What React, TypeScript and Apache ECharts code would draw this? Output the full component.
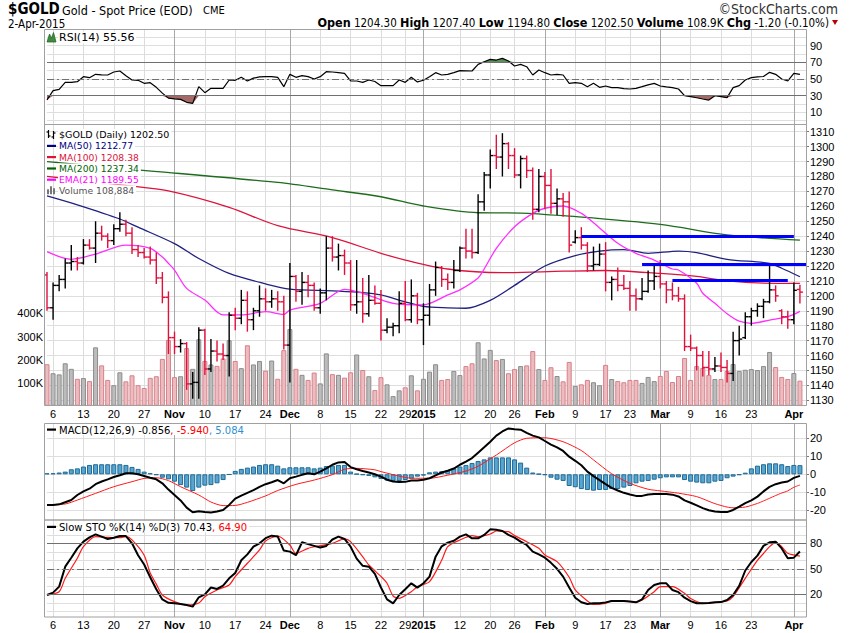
import React, { useEffect, useRef } from 'react';
import * as echarts from 'echarts';

// ---------------- data ----------------
const dates = [
'2014-10-03','2014-10-06','2014-10-07','2014-10-08','2014-10-09','2014-10-10',
'2014-10-13','2014-10-14','2014-10-15','2014-10-16','2014-10-17',
'2014-10-20','2014-10-21','2014-10-22','2014-10-23','2014-10-24',
'2014-10-27','2014-10-28','2014-10-29','2014-10-30','2014-10-31',
'2014-11-03','2014-11-04','2014-11-05','2014-11-06','2014-11-07',
'2014-11-10','2014-11-11','2014-11-12','2014-11-13','2014-11-14',
'2014-11-17','2014-11-18','2014-11-19','2014-11-20','2014-11-21',
'2014-11-24','2014-11-25','2014-11-26','2014-11-28',
'2014-12-01','2014-12-02','2014-12-03','2014-12-04','2014-12-05',
'2014-12-08','2014-12-09','2014-12-10','2014-12-11','2014-12-12',
'2014-12-15','2014-12-16','2014-12-17','2014-12-18','2014-12-19',
'2014-12-22','2014-12-23','2014-12-24','2014-12-26',
'2014-12-29','2014-12-30','2014-12-31',
'2015-01-02',
'2015-01-05','2015-01-06','2015-01-07','2015-01-08','2015-01-09',
'2015-01-12','2015-01-13','2015-01-14','2015-01-15','2015-01-16',
'2015-01-20','2015-01-21','2015-01-22','2015-01-23',
'2015-01-26','2015-01-27','2015-01-28','2015-01-29','2015-01-30',
'2015-02-02','2015-02-03','2015-02-04','2015-02-05','2015-02-06',
'2015-02-09','2015-02-10','2015-02-11','2015-02-12','2015-02-13',
'2015-02-17','2015-02-18','2015-02-19','2015-02-20',
'2015-02-23','2015-02-24','2015-02-25','2015-02-26','2015-02-27',
'2015-03-02','2015-03-03','2015-03-04','2015-03-05','2015-03-06',
'2015-03-09','2015-03-10','2015-03-11','2015-03-12','2015-03-13',
'2015-03-16','2015-03-17','2015-03-18','2015-03-19','2015-03-20',
'2015-03-23','2015-03-24','2015-03-25','2015-03-26','2015-03-27',
'2015-03-30','2015-03-31',
'2015-04-01','2015-04-02'];

const open = [
1214,1192,1207,1211,1222,1223,1222,1234,1232,1242,
1240,1237,1245,1248,1242,1231,1229,1226,1224,1212,
1199,1172,1166,1168,1141,1142,1177,1151,1163,1161,
1160,1187,1185,1197,1184,1190,1198,1196,1198,1196,
1167,1213,1203,1209,1207,1192,1202,1232,1226,1227,
1222,1194,1196,1188,1197,1195,1177,1179,1180,1195,
1184,1200,1184,1187,1204,1219,1211,1209,1217,1232,
1230,1229,1263,1281,1294,1293,1302,1294,1281,1292,
1284,1258,1280,1274,1262,1265,1263,1236,1239,1234,
1220,1221,1228,1209,1211,1207,1205,1200,1198,1203,
1210,1213,1208,1204,1200,1198,1166,1165,1160,1152,
1151,1153,1152,1148,1170,1172,1186,1190,1193,1196,
1204,1190,1186,1184,1204.3];
const high = [
1216,1209,1214,1225,1234,1226,1238,1238,1250,1247,
1242,1248,1256,1251,1246,1234,1232,1233,1229,1216,
1203,1176,1171,1169,1149,1179,1178,1171,1170,1168,
1189,1192,1204,1203,1192,1207,1205,1204,1203,1200,
1222,1214,1216,1214,1209,1205,1240,1240,1235,1231,
1224,1224,1212,1214,1207,1204,1185,1182,1203,1210,
1211,1202,1195,1208,1223,1220,1215,1224,1233,1245,
1245,1268,1283,1298,1308,1309,1303,1299,1294,1294,
1286,1285,1283,1285,1272,1269,1270,1244,1246,1236,
1233,1235,1236,1213,1219,1214,1210,1205,1212,1217,
1220,1224,1210,1209,1206,1201,1174,1166,1163,1163,
1159,1162,1157,1176,1180,1189,1192,1195,1198,1221,
1207,1191,1190,1209,1207.4];
const low = [
1190,1184,1203,1205,1217,1217,1221,1231,1222,1237,
1232,1234,1243,1240,1228,1226,1225,1221,1208,1195,
1161,1161,1162,1137,1131,1131,1147,1149,1156,1157,
1146,1177,1181,1176,1177,1186,1190,1192,1190,1164,
1142,1196,1194,1199,1190,1188,1197,1223,1217,1214,
1190,1188,1182,1186,1194,1170,1175,1173,1175,1183,
1182,1181,1167,1180,1200,1206,1204,1205,1216,1225,
1225,1228,1257,1272,1285,1280,1285,1279,1272,1279,
1251,1256,1258,1255,1254,1253,1229,1235,1231,1216,
1217,1220,1203,1197,1203,1204,1190,1190,1197,1202,
1204,1205,1195,1197,1196,1163,1163,1150,1146,1147,
1149,1149,1142,1143,1160,1171,1180,1186,1185,1195,
1196,1181,1178,1181,1194.8];
const close = [
1192,1207,1211,1222,1223,1222,1234,1232,1242,1240,
1237,1245,1248,1242,1231,1229,1226,1224,1212,1199,
1172,1166,1168,1141,1142,1177,1151,1163,1161,1160,
1187,1185,1197,1184,1190,1198,1196,1198,1196,1167,
1213,1203,1209,1207,1192,1202,1232,1226,1227,1222,
1194,1196,1188,1197,1195,1177,1179,1180,1195,1184,
1200,1184,1187,1204,1219,1211,1209,1217,1232,1230,
1229,1263,1281,1294,1293,1302,1294,1281,1292,1284,
1258,1280,1274,1262,1265,1263,1234,1239,1234,1220,
1221,1228,1209,1211,1207,1205,1200,1198,1203,1210,
1213,1208,1204,1200,1198,1166,1165,1160,1152,1151,
1153,1152,1148,1170,1171,1186,1190,1193,1196,1204,
1200,1186,1184,1203.7,1202.5];
// volume in thousands
const volumeK = [
180,141,136,184,160,117,120,107,253,175,
112,89,145,106,132,89,77,121,128,203,
285,124,128,250,160,288,194,179,173,205,
284,194,163,262,179,194,152,196,117,241,
332,160,134,112,144,97,227,137,134,122,
145,222,155,128,68,124,93,42,67,80,
132,67,117,148,180,112,116,151,133,172,
184,275,205,242,198,203,141,159,172,175,
237,159,112,167,129,106,190,86,93,112,
102,89,177,116,107,102,112,112,99,125,
107,129,151,103,129,207,112,172,164,133,
116,116,151,181,151,156,159,155,172,233,
168,125,116,142,108.884];

// overlays: [dayIndex, value]
const ma50 = [[0,1267],[5,1261],[12,1251.5],[15,1246],[21,1235],[25,1225],[30,1215],[36,1208],[40,1204.5],[47,1203.3],[52,1202.2],[55,1200.6],[59,1196],[62,1193],[66,1192],[69,1191.7],[73,1197],[77,1207],[82,1220],[87,1227],[91,1230],[95,1231],[99,1228.5],[104,1230],[107,1229],[112,1224.5],[119,1221.8],[121,1218.5],[124,1212.77]];
const ma100 = [[0,1280],[13,1274],[20,1270.3],[30,1259.3],[38,1247],[47,1239],[55,1228.5],[59,1224],[66,1218],[75,1215.5],[85,1216.5],[92,1217],[101,1215],[107,1213],[112,1210],[118,1208.5],[124,1208.38]];
const ma200 = [[0,1290],[14,1284.8],[38,1276],[47,1271],[55,1266.4],[62,1260.2],[71,1255.7],[78,1255.5],[85,1253.7],[101,1247.9],[112,1240.8],[124,1237.34]];
const ema21 = [[0,1229.6],[4,1224.5],[8,1228],[13,1234],[17,1231.8],[19,1226],[20,1221.8],[21,1217.3],[23,1205],[26,1197.2],[29,1187.2],[32,1187.2],[36,1189.4],[39,1187.5],[40,1190.5],[45,1195],[49,1204.4],[52,1201.7],[57,1195],[62,1194],[66,1200.6],[68,1204],[71,1212],[72,1218],[74,1231.8],[77,1246.3],[80,1255.3],[82,1258.7],[85,1260.2],[88,1255.3],[90,1249],[94,1235.2],[97,1228.5],[100,1224],[103,1218],[104,1217.3],[107,1208.4],[108,1201.7],[110,1195],[112,1188],[114,1183],[116,1181.6],[119,1183.8],[122,1186],[124,1189.55]];

const rsi = [
25,36,37.6,46,46,46.8,52.8,51.6,55.6,55,
54.8,58.4,59.6,54,48.8,48.4,44.8,45.6,40,33,
27,26,25.5,22,20.7,40.8,33.6,38.8,38.8,38.8,
48.8,48.4,52,47.6,51,52.5,52.8,52.8,52,40.8,
55.6,52,54,52.8,50,52.8,58.8,58.4,57.6,56.8,
47.6,47.6,46,48.8,47,42,42,42,48.8,46,
52,46.5,48.5,52.8,57.6,54.8,55.5,57.6,60,59.8,
59.6,67.6,70.8,73.6,72.8,74.8,71.6,65.6,67.6,64.8,
54.8,60.8,57.6,54.8,55.6,54.8,44.8,45.6,44.8,40.8,
44.8,40,41.6,39.6,39.6,38.5,38,38.8,40.8,43,
44.8,41.6,40.5,39.6,38,30,28.8,27.5,26,24.7,
30,28.8,27.6,39.6,42,48.8,51.6,52.5,53,58,
55.6,50,47.6,56.8,55.56];

const macdLine = [
-17.1,-17,-16.7,-15.5,-14.3,-11.5,-9.5,-8,-5.5,-4,
-2.8,-1.5,-0.5,0.6,0.6,0,-0.9,-1.9,-2.8,-5,
-8.5,-11.5,-14.5,-18.5,-21.1,-20.5,-21,-21.2,-20.7,-19.8,
-17,-13.5,-11.8,-10.3,-8.8,-7,-5.5,-4.4,-3.2,-5,
-2.2,-1.3,-0.3,0.6,0,1.5,3.3,5.3,6.6,6.8,
4,2.8,1.8,1,0,-1.3,-3,-4,-4.3,-4.2,
-3.5,-3.5,-3,-2.2,-0.6,1,2,3.2,5.3,7,
9,12,15,18.1,21.5,23.8,25.5,25,24.8,23,
21.5,20.5,18.5,16.5,15,13,9.8,7.5,5,1.5,
-1,-3.2,-5.5,-7.5,-9,-10.3,-11.2,-12,-12,-11.2,
-11,-11,-11,-11.3,-12.3,-14.5,-15.8,-17.3,-18.8,-20,
-20.7,-21,-21,-19.8,-18,-16,-14.5,-12.4,-9.5,-7,
-5.5,-4.6,-4,-2,-0.856];
const macdSignal = [[0,-17.1],[3,-16.5],[5,-14.3],[8,-10.6],[11,-6.9],[14,-4.1],[16,-2.3],[18,-1.9],[20,-3.5],[22,-6.9],[25,-11.5],[27,-15.4],[29,-17.4],[31,-17.3],[33,-15.6],[36,-12],[38,-9],[41,-5.6],[44,-3.2],[47,-0.2],[49,2.8],[51,3.3],[54,2.5],[55,1.5],[58,-1],[60,-2.2],[63,-2.2],[66,-0.5],[69,1.8],[71,4.5],[74,10.7],[77,17.5],[79,20],[82,20.3],[85,18.1],[88,13.2],[90,8],[93,0.3],[96,-5],[99,-8.3],[101,-9.2],[104,-10.5],[107,-12.4],[110,-16.3],[112,-18.2],[113,-18.6],[115,-18.2],[117,-16.2],[118,-14.8],[119,-13.3],[120,-11.8],[121,-10.4],[122,-9.2],[123,-7.2],[124,-5.94]];
const macdHist = [
0.5,0.6,1,1.5,2.8,3.3,4.3,5.2,5.6,5.6,
5.6,5.6,5.6,5.2,4.1,3,1.5,0.6,-0.4,-1.9,
-2.8,-4.1,-6,-7.4,-9.3,-7.4,-6.3,-6,-5,-3.2,
-0.2,1.9,3,3.7,4.3,5.2,5.6,5.6,4.8,3.3,
3.9,3.9,3.9,3.9,3.3,3.7,4.6,4.8,5.2,5.2,
1.5,0.2,-0.4,-0.9,-1.7,-2.6,-3.5,-3.7,-3.7,-3.2,
-2.4,-1.3,-0.7,1.1,1.5,1.7,2.2,3.3,4.3,5.2,
6.3,7.4,8.3,9.4,9.4,9.4,9.4,8.3,6.5,3.7,
1,0.2,-0.4,-1.9,-3,-3.7,-6.5,-7.2,-8.2,-8.7,
-9.1,-8.7,-8.7,-8.2,-8.2,-7.4,-6.5,-5,-4.1,-3.7,
-3,-2.2,-1.7,-1.7,-1.7,-3.2,-4.1,-4.6,-5,-5,
-4.1,-3.7,-2.2,-1.3,-0.4,0.9,3.3,4.8,5.6,6.1,
6.1,5.6,4.6,5.2,5.084];

const stoK = [
19.2,22,29,52.5,63,74,82,87,90.5,87.8,
85,86.6,88.5,88.5,80,66,55,40,26,14,
10,9.4,8.5,7.5,5.5,16.5,20,28,26.3,30.2,
38.8,45,60,67,76,80,86,89,88,71.5,
70.2,66,81.2,79,77,75,76.9,84.5,87.8,85.1,
76,62,53.5,52.5,44,28,14,9.4,19.2,26,
32.9,27.8,33,40.8,64.3,76.5,80.8,83,87.8,90.5,
85.8,85.8,89.8,96.4,96,94.5,90,86.6,82,78,
70.2,67,63.1,57,50,40.8,28,16,10.6,8.6,
9.4,9.4,10.5,12.2,12.2,12.2,11.4,10.6,14,25,
31,32.9,32.9,25.1,22.5,16,12,9.4,9.4,9.8,
10.6,10.8,13.3,19.2,30,48,58,65.5,77,81.2,
81.9,74,62.4,63.1,70.43];
const stoD = [[0,19.2],[2,23],[3,38.8],[5,62.4],[6,76],[8,87.8],[10,87],[12,86.6],[13,87.8],[14,84],[16,66],[17,45],[18,32],[19,19.2],[21,11.4],[23,7.4],[25,9.8],[26,17.2],[28,25.1],[30,31],[31,40.8],[33,56.5],[35,72.2],[36,82.7],[38,88.6],[40,78],[41,68.2],[43,74.1],[45,77.3],[47,80],[49,85.1],[50,81.9],[52,64],[53,54.5],[55,41],[56,33],[57,18],[58,15.3],[60,23.1],[61,29],[63,34.9],[65,60],[66,76.1],[68,83.9],[70,89],[71,87.8],[73,91],[74,94.5],[76,93.7],[77,89],[79,81.9],[81,74.1],[82,66.2],[84,58.4],[86,40],[87,25.1],[89,12.2],[90,8.2],[92,9.4],[93,12.2],[95,12.2],[97,10.6],[98,13.3],[100,23.1],[101,29],[103,29],[105,21.2],[106,15],[108,9.4],[110,10.2],[112,12.2],[113,17.2],[115,38.8],[117,60],[118,68],[119,76.1],[120,81.2],[121,76.1],[122,68.2],[124,64.9]];

// user-drawn horizontal lines: [fromIndex, toIndex, price]
const resistanceLines = [[88, 123, 1240], [98, 125, 1221], [103, 122, 1210.6]];

// date axis
const xTickIndex = [1,6,11,16,21,26,31,36,40,45,50,55,59,62,68,73,77,82,87,92,96,101,106,111,116,123];
const xTickLabels = ['6','13','20','27','Nov','10','17','24','Dec','8','15','22','29','2015','12','20','26','Feb','9','17','23','Mar','9','16','23','Apr'];
const monthIndex = [21,40,62,82,101,123];

// ---------------- layout constants ----------------
const PLOT_L = 47;
const PLOT_R = 806;
const FRAME_L = 44.5;
const FONT_AX = '"Liberation Sans", Arial, sans-serif';
const FONT_LEG = '"DejaVu Sans", Verdana, sans-serif';
const FONT_HDR = '"Liberation Sans Narrow", "Arial Narrow", "DejaVu Sans Condensed", sans-serif';

function buildOption() {
  const cats = [...dates, ''];
  const up = close.map((c, i) => c >= (i === 0 ? open[0] : close[i - 1]));
  const lineIdx = xTickIndex.slice();
  const lineColors = lineIdx.map((i) => (monthIndex.includes(i) ? '#a8a8a8' : '#dcdcdc'));

  const g = (top, height) => ({ left: PLOT_L, right: 850 - PLOT_R, top, height, containLabel: false, outerBoundsMode: 'none' });
  const grids = [
    g(29.5, 95),     // 0 RSI background
    g(37.4, 83.2),   // 1 RSI data
    g(124.5, 281),   // 2 price background
    g(131.7, 268.6), // 3 price data
    g(313.4, 92.4),  // 4 volume
    g(423.5, 96.5),  // 5 MACD background
    g(438.3, 72),    // 6 MACD data
    g(520, 97),      // 7 STO background
    g(526.3, 85),    // 8 STO data
  ];
  const isBg = (k) => k === 0 || k === 2 || k === 5 || k === 7;

  const xAxis = grids.map((_, k) => ({
    type: 'category', gridIndex: k, data: cats, boundaryGap: false,
    axisLine: { show: false }, axisTick: { show: false },
    axisPointer: { show: false },
    axisLabel: (k === 2 || k === 7) ? {
      show: true,
      interval: (idx) => xTickIndex.includes(idx),
      margin: k === 2 ? 3 : 2,
      fontSize: 11, color: '#000', fontFamily: FONT_AX,
      formatter: (v, idx) => {
        const j = xTickIndex.indexOf(idx);
        if (j < 0) return '';
        return monthIndex.includes(idx) ? '{b|' + xTickLabels[j] + '}' : xTickLabels[j];
      },
      rich: { b: { fontWeight: 'bold', fontSize: 11, fontFamily: FONT_AX, color: '#000' } },
    } : { show: false },
    splitLine: isBg(k) ? {
      show: true, interval: (idx) => lineIdx.includes(idx),
      lineStyle: { color: lineColors, width: 1 },
    } : { show: false },
  }));

  const hidden = (k) => ({ type: 'value', gridIndex: k, show: false, min: 0, max: 1, splitLine: { show: false } });
  const axLabel = { fontSize: 11, color: '#000', fontFamily: FONT_AX, margin: 4 };
  const split = { show: true, lineStyle: { color: '#dedede', width: 1 } };
  const yAxis = [
    hidden(0),
    { type: 'value', gridIndex: 1, position: 'right', min: 0, max: 100, interval: 10,
      axisLine: { show: false }, axisTick: { show: false }, splitLine: split,
      axisLabel: { ...axLabel, formatter: (v) => (v % 20 === 10 ? String(v) : '') } },
    hidden(2),
    { type: 'value', gridIndex: 3, position: 'right', min: 1130, max: 1310, interval: 10,
      axisLine: { show: false }, axisTick: { show: true, length: 3, lineStyle: { color: '#777' } }, splitLine: split,
      axisLabel: { ...axLabel, formatter: (v) => String(v) } },
    { type: 'value', gridIndex: 4, position: 'left', min: 0, max: 400, interval: 100,
      axisLine: { show: false }, axisTick: { show: false }, splitLine: { show: false },
      axisLabel: { ...axLabel, formatter: (v) => (v === 0 ? '' : v + 'K') } },
    hidden(5),
    { type: 'value', gridIndex: 6, position: 'right', min: -20, max: 20, interval: 10,
      axisLine: { show: false }, axisTick: { show: true, length: 3, lineStyle: { color: '#777' } }, splitLine: split,
      axisLabel: { ...axLabel, formatter: (v) => String(v) } },
    hidden(7),
    { type: 'value', gridIndex: 8, position: 'right', min: 0, max: 100, interval: 10,
      axisLine: { show: false }, axisTick: { show: false }, splitLine: split,
      axisLabel: { ...axLabel, formatter: (v) => ([20, 50, 80].includes(v) ? String(v) : '') } },
  ];

  const refLines = (hi, mid, lo) => ({
    silent: true, symbol: ['none', 'none'], label: { show: false }, animation: false,
    data: [
      { yAxis: hi, lineStyle: { color: '#707070', width: 1, type: 'solid' } },
      { yAxis: lo, lineStyle: { color: '#707070', width: 1, type: 'solid' } },
      { yAxis: mid, lineStyle: { color: '#707070', width: 1, type: [7, 3, 2, 3] } },
    ],
  });

  const lineS = (name, xi, data, color, width, extra = {}) => ({
    name, type: 'line', xAxisIndex: xi, yAxisIndex: xi, data, showSymbol: false, symbol: 'none',
    lineStyle: { color, width }, itemStyle: { color }, silent: true, z: 3, ...extra,
  });

  const series = [
    // RSI shading
    lineS('rsiHi', 1, rsi.map((v) => Math.max(v, 70)), '#4e8a4e', 0,
      { areaStyle: { origin: 70, color: '#5a915a', opacity: 1 }, lineStyle: { width: 0, opacity: 0 }, z: 2 }),
    lineS('rsiLo', 1, rsi.map((v) => Math.min(v, 30)), '#a06060', 0,
      { areaStyle: { origin: 30, color: '#a56a68', opacity: 1 }, lineStyle: { width: 0, opacity: 0 }, z: 2 }),
    lineS('RSI', 1, rsi, '#000', 1.2, { markLine: refLines(70, 50, 30) }),
    // volume
    {
      name: 'Volume', type: 'bar', xAxisIndex: 4, yAxisIndex: 4, barWidth: 5, silent: true, z: 1,
      data: volumeK.map((v, i) => ({
        value: v,
        itemStyle: up[i]
          ? { color: '#bcbcbc', borderColor: '#8c8c8c', borderWidth: 1 }
          : { color: '#ebbcc0', borderColor: '#d88089', borderWidth: 1 },
      })),
    },
    // moving averages
    lineS('MA200', 3, ma200, '#1d6b1d', 1.3, { smooth: 0.3 }),
    lineS('MA100', 3, ma100, '#dc143c', 1.3, { smooth: 0.3 }),
    lineS('MA50', 3, ma50, '#202080', 1.3, { smooth: 0.3 }),
    lineS('EMA21', 3, ema21, '#ff2eff', 1.3, {
      smooth: 0.3,
      markLine: {
        silent: true, symbol: ['none', 'none'], label: { show: false }, animation: false,
        lineStyle: { color: '#0000ff', width: 3, type: 'solid' },
        data: resistanceLines.map(([a, b, p]) => [{ coord: [a, p] }, { coord: [b, p] }]),
      },
    }),
    // OHLC bars
    {
      name: '$GOLD', type: 'custom', xAxisIndex: 3, yAxisIndex: 3, silent: true, z: 4,
      data: dates.map((_, i) => [i, open[i], high[i], low[i], close[i], up[i] ? 1 : 0]),
      encode: { x: 0, y: [1, 2, 3, 4] },
      renderItem: (params, api) => {
        const i = api.value(0);
        const pH = api.coord([i, api.value(2)]);
        const pL = api.coord([i, api.value(3)]);
        const pO = api.coord([i, api.value(1)]);
        const pC = api.coord([i, api.value(4)]);
        const color = api.value(5) ? '#000000' : '#e0103c';
        const st = { stroke: color, lineWidth: 1.4 };
        const x = pH[0];
        return {
          type: 'group',
          children: [
            { type: 'line', shape: { x1: x, y1: pH[1], x2: x, y2: pL[1] }, style: st },
            { type: 'line', shape: { x1: x - 3, y1: pO[1], x2: x, y2: pO[1] }, style: st },
            { type: 'line', shape: { x1: x, y1: pC[1], x2: x + 3, y2: pC[1] }, style: st },
          ],
        };
      },
    },
    // MACD
    {
      name: 'hist', type: 'bar', xAxisIndex: 6, yAxisIndex: 6, barWidth: 5, silent: true, z: 1,
      data: macdHist, itemStyle: { color: '#57a5d0', borderColor: '#1f6b96', borderWidth: 1 },
    },
    lineS('signal', 6, macdSignal, '#ff1a1a', 1, { clip: false, smooth: 0.25 }),
    lineS('MACD', 6, macdLine, '#000', 2, { clip: false }),
    // STO
    lineS('%D', 8, stoD, '#ff1a1a', 1.2, { smooth: 0.25, markLine: refLines(80, 50, 20) }),
    lineS('%K', 8, stoK, '#000', 2),
  ];

  // ---------- graphics: frames, legends, header ----------
  const T = (x, y, text, font, fill = '#000', extra = {}) => ({
    type: 'text', x, y, z: 100, silent: true,
    style: { text, font, fill, align: 'left', verticalAlign: 'middle', textAlign: 'left', textVerticalAlign: 'middle', ...extra },
  });
  const R = (x, y, w, h, fill) => ({ type: 'rect', z: 101, silent: true, shape: { x, y, width: w, height: h }, style: { fill } });
  const Ln = (x1, y1, x2, y2, stroke, w = 1) => ({ type: 'line', z: 101, silent: true, shape: { x1, y1, x2, y2 }, style: { stroke, lineWidth: w } });
  const bgw = { backgroundColor: '#fff', padding: [1, 2, 0, 1] };

  const frames = [[29.5, 124.5], [124.5, 405.5], [423.5, 520], [520, 617]].map(([t, b]) => ({
    type: 'rect', z: 90, silent: true,
    shape: { x: FRAME_L, y: t, width: PLOT_R + 0.5 - FRAME_L, height: b - t },
    style: { fill: 'none', stroke: '#a0a0a0', lineWidth: 1 },
  }));

  const legRows = [134.5, 145.8, 157, 168.4, 179.6, 190.2];
  const maLeg = [
    ['MA(50) 1212.77', '#000080'],
    ['MA(100) 1208.38', '#dc143c'],
    ['MA(200) 1237.34', '#006400'],
    ['EMA(21) 1189.55', '#ff00ff'],
  ];

  const graphic = [
    ...frames,
    // header
    T(8, 8.5, '$GOLD', 'bold 15px ' + FONT_HDR),
    T(62, 10, 'Gold - Spot Price (EOD)', '12.5px ' + FONT_HDR),
    T(203, 10.5, 'CME', '11px ' + FONT_HDR),
    T(838, 8.5, '\u00A9StockCharts.com', '14px ' + FONT_HDR, '#333', { align: 'right', textAlign: 'right' }),
    T(8, 23.5, '2-Apr-2015', '11.5px ' + FONT_HDR),
    T(829, 22.5, '{b|Open} 1204.30 {b|High} 1207.40 {b|Low} 1194.80 {b|Close} 1202.50 {b|Volume} 108.9K {b|Chg} -1.20 (-0.10%)',
      '11.5px ' + FONT_HDR, '#000', {
        align: 'right', textAlign: 'right',
        rich: { b: { font: 'bold 12.5px ' + FONT_HDR, fill: '#000' } },
      }),
    { type: 'polygon', z: 101, silent: true, shape: { points: [[832, 20], [838, 20], [835, 25]] }, style: { fill: '#c00000' } },
    // RSI legend
    { type: 'polygon', z: 101, silent: true, shape: { points: [[47, 42], [49.5, 34], [51.5, 38], [53.5, 32.5], [56, 42]] }, style: { fill: '#3d8b3d', stroke: '#2a6a2a', lineWidth: 0.8 } },
    T(58, 37.5, 'RSI(14) 55.56', '11px ' + FONT_LEG, '#000', bgw),
    // price legend
    Ln(48.5, 130, 48.5, 138, '#000', 1.2), Ln(46.5, 132, 48.5, 132, '#000', 1.2), Ln(48.5, 136, 50.5, 136, '#000', 1.2),
    Ln(53.5, 131, 53.5, 139, '#000', 1.2), Ln(51.5, 137, 53.5, 137, '#000', 1.2), Ln(53.5, 133, 55.5, 133, '#000', 1.2),
    T(58, legRows[0], '$GOLD (Daily) 1202.50', '9.5px ' + FONT_LEG, '#000', bgw),
    ...maLeg.flatMap(([t, c], k) => [
      R(47, legRows[k + 1] - 1, 9, 2.2, c),
      T(58, legRows[k + 1], t, '9.2px ' + FONT_LEG, c, bgw),
    ]),
    R(47, legRows[5] - 1, 2, 5, '#777'), R(50, legRows[5] - 4, 2, 8, '#777'), R(53, legRows[5] - 2, 2, 6, '#777'),
    T(58, legRows[5], 'Volume 108,884', '9.2px ' + FONT_LEG, '#555', bgw),
    // MACD legend
    R(47, 428.5, 9, 2.2, '#000'),
    T(58, 429.5, '{a|MACD(12,26,9) -0.856}{r|, -5.940}{c|, 5.084}', '10px ' + FONT_LEG, '#000', {
      ...bgw, rich: { a: { fill: '#000' }, r: { fill: '#ff0000' }, c: { fill: '#2f8fcf' } },
    }),
    // STO legend
    R(47, 525.8, 9, 2.2, '#000'),
    T(58, 526.8, '{a|Slow STO %K(14) %D(3) 70.43}{r|, 64.90}', '10px ' + FONT_LEG, '#000', {
      ...bgw, rich: { a: { fill: '#000' }, r: { fill: '#ff0000' } },
    }),
  ];

  return {
    animation: false,
    backgroundColor: '#ffffff',
    textStyle: { fontFamily: FONT_AX },
    grid: grids,
    xAxis,
    yAxis,
    series,
    graphic: { elements: graphic },
  };
}

export default function App() {
  const ref = useRef<HTMLDivElement>(null);
  useEffect(() => {
    document.body.style.margin = '0';
    const chart = echarts.init(ref.current as HTMLDivElement, null, { renderer: 'svg', width: 850, height: 633 });
    chart.setOption(buildOption() as any);
    return () => chart.dispose();
  }, []);
  return <div ref={ref} style={{ position: 'fixed', left: 0, top: 0, width: 850, height: 633, background: '#fff' }} />;
}
